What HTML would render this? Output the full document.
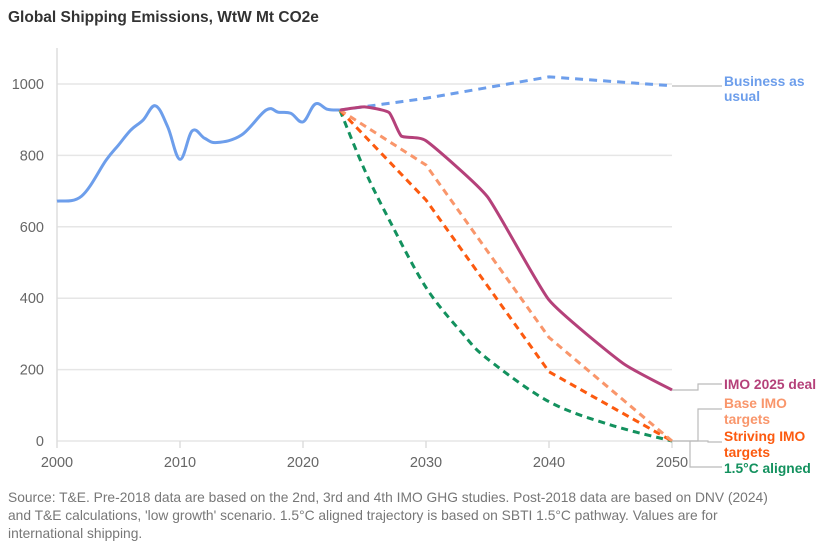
<!DOCTYPE html>
<html><head><meta charset="utf-8">
<style>
body{margin:0;background:#fff;font-family:"Liberation Sans",sans-serif;}
#wrap{position:relative;width:839px;height:552px;overflow:hidden;}
.t{position:absolute;}
</style></head>
<body>
<div id="wrap">
<div class="t" style="left:8px;top:9px;font-size:15.5px;font-weight:bold;color:#333;">Global Shipping Emissions, WtW Mt CO2e</div>
<svg id="chart" width="839" height="552" style="position:absolute;left:0;top:0"></svg>
<div class="t" style="left:8px;top:489px;width:782px;font-size:13.8px;line-height:18px;color:#777;">Source: T&amp;E. Pre-2018 data are based on the 2nd, 3rd and 4th IMO GHG studies. Post-2018 data are based on DNV (2024) and T&amp;E calculations, 'low growth' scenario. 1.5°C aligned trajectory is based on SBTI 1.5°C pathway. Values are for international shipping.</div>
</div>
<script>
const yTicks=[0,200,400,600,800,1000];
const xTicks=[2000,2010,2020,2030,2040,2050];
const histYears=[2000,2002,2004,2005,2006,2007,2008,2009,2010,2011,2012,2013,2015,2017,2018,2019,2020,2021,2022,2023];
const histVals=[672,686,787,829,871,899,939,880,789,869,848,836,857,927,921,918,894,944,929,927];
const bauYears=[2023,2030,2040,2050];
const bauVals=[927,960,1020,995];
const imoYears=[2023,2025,2027,2028,2030,2035,2040,2046,2050];
const imoVals=[927,936,920,854,841,684,395,218,143];
const baseYears=[2023,2030,2040,2050];
const baseVals=[927,773,290,0];
const strivYears=[2023,2030,2040,2050];
const strivVals=[927,675,194,0];
const a15Years=[2023,2025,2027,2030,2033,2035,2040,2045,2050];
const a15Vals=[927,760,620,430,300,230,110,45,0];

const svg=document.getElementById('chart');
const NS='http://www.w3.org/2000/svg';
const X=y=>57+(y-2000)*12.3;
const Y=v=>441-v*0.357;
function mk(tag,attrs){const e=document.createElementNS(NS,tag);for(const k in attrs)e.setAttribute(k,attrs[k]);svg.appendChild(e);return e;}
yTicks.forEach(v=>{
  const l=mk('line',{x1:57,x2:672,y1:Y(v),y2:Y(v),stroke:'#e6e6e6','stroke-width':1.5});
  
  
  const t=mk('text',{x:44,y:Y(v)+5,'text-anchor':'end','font-size':14.5,fill:'#666','font-family':'Liberation Sans'});
  t.textContent=v;
  
  
});
const ax=mk('line',{x1:57,x2:57,y1:48,y2:441,stroke:'#ddd','stroke-width':1.5});


xTicks.forEach(v=>{
  const l=mk('line',{x1:X(v),x2:X(v),y1:441,y2:448,stroke:'#ddd','stroke-width':1.5});
  
  
  const t=mk('text',{x:X(v),y:467,'text-anchor':'middle','font-size':14.5,fill:'#666','font-family':'Liberation Sans'});
  t.textContent=v;
  
  
});
function path(xs,vs,t){
  const p=xs.map((x,i)=>[X(x),Y(vs[i])]);
  let d='M'+p[0][0]+','+p[0][1];
  for(let i=0;i<p.length-1;i++){
    const p0=p[i-1]||p[i],p1=p[i],p2=p[i+1],p3=p[i+2]||p2;
    const c1=[p1[0]+(p2[0]-p0[0])*t,p1[1]+(p2[1]-p0[1])*t];
    const c2=[p2[0]-(p3[0]-p1[0])*t,p2[1]-(p3[1]-p1[1])*t];
    d+=` C${c1[0]},${c1[1]} ${c2[0]},${c2[1]} ${p2[0]},${p2[1]}`;
  }
  return d;
}
function connector(pts,name){
  const c=mk('polyline',{points:pts,fill:'none',stroke:'#bbb','stroke-width':1.2});
  
  
}
connector('672,86 722,86','bau-connector');
connector('672,390 698,390 698,384 722,384','imo-deal-connector');
connector('672,441 698,441 698,409 722,409','base-imo-connector');
connector('672,441 708,441 708,442 722,442','striving-imo-connector');
connector('690,441 690,467 722,467','aligned-connector');
const series=[
  [histYears,histVals,'#6d9eeb',null,'historical-line',0.18],
  [bauYears,bauVals,'#6d9eeb','8 6','bau-line',0],
  [a15Years,a15Vals,'#13915e','7 5','aligned-1-5-line',0.16],
  [strivYears,strivVals,'#fc5a0f','7 5','striving-imo-line',0],
  [baseYears,baseVals,'#f9966b','7 5','base-imo-line',0],
  [imoYears,imoVals,'#b5417a',null,'imo-2025-deal-line',0.08]
];
series.forEach(s=>{
  const e=mk('path',{d:path(s[0],s[1],s[5]),fill:'none',stroke:s[2],'stroke-width':3,'stroke-linejoin':'round'});
  if(s[3])e.setAttribute('stroke-dasharray',s[3]);
  
  
});
const labels=[
  ['Business as',86,'#6d9eeb','legend-bau'],['usual',101,'#6d9eeb','legend-bau-2'],
  ['IMO 2025 deal',389,'#b5417a','legend-imo-deal'],
  ['Base IMO',408,'#f9966b','legend-base-imo'],['targets',424,'#f9966b','legend-base-imo-2'],
  ['Striving IMO',441,'#fc5a0f','legend-striving-imo'],['targets',457,'#fc5a0f','legend-striving-imo-2'],
  ['1.5°C aligned',473,'#13915e','legend-aligned']
];
labels.forEach(l=>{
  const t=mk('text',{x:724,y:l[1]+0,'font-size':13.8,'font-weight':'bold',fill:l[2],'font-family':'Liberation Sans'});
  t.textContent=l[0];
  
  
});
</script>
</body></html>
